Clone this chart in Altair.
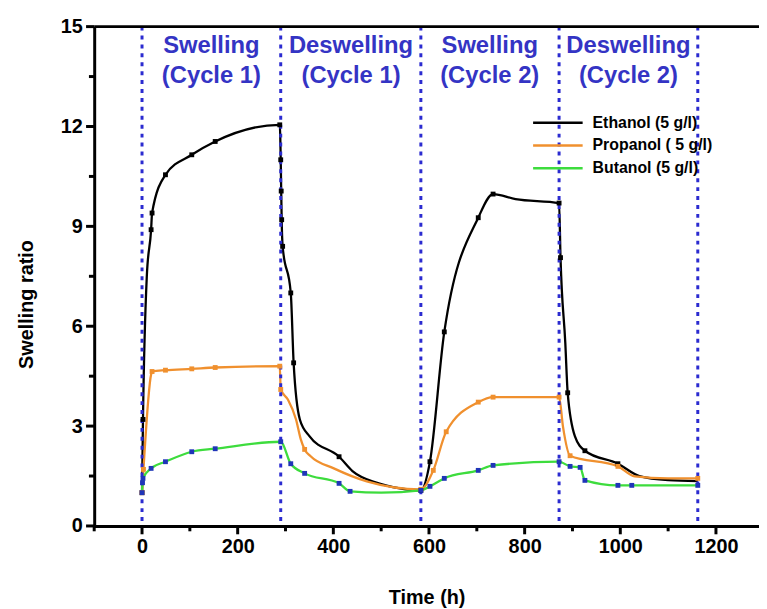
import altair as alt
import pandas as pd

# ---------------- data ----------------
series_names = ["Ethanol (5 g/l)", "Propanol ( 5 g/l)", "Butanol (5 g/l)"]
line_colors = ["#000000", "#f0902e", "#3ddc3d"]
marker_colors = ["#000000", "#f0902e", "#1f35b8"]

eth_t = [0, 2, 10, 19, 21, 49, 104, 153, 288, 290, 291, 292, 294, 311, 317, 330, 350, 412, 440, 490, 539, 583,
         602, 632, 703, 734, 781, 872, 875, 885, 890, 905, 926, 995, 1040, 1100, 1162]
eth_v = [1.0, 3.2, 7.5, 8.9, 9.4, 10.55, 11.15, 11.55, 12.05, 11.0, 10.06, 9.2, 8.4, 7.0, 4.9, 3.2, 2.7, 2.08, 1.65, 1.3, 1.13, 1.07,
         1.93, 5.83, 9.26, 9.97, 9.82, 9.7, 8.06, 5.5, 4.0, 2.7, 2.26, 1.87, 1.5, 1.38, 1.35]
eth_m = [1, 1, 0, 1, 1, 1, 1, 1, 1, 1, 1, 1, 1, 1, 1, 0, 0, 1, 0, 0, 0, 1,
         1, 1, 1, 1, 0, 1, 1, 0, 1, 0, 1, 1, 0, 0, 0]

pro_t = [0, 3, 19, 21, 49, 104, 153, 288, 290, 305, 322, 332, 340, 352, 401, 470, 583,
         609, 636, 703, 734, 872, 880, 895, 995, 1030, 1100, 1162]
pro_v = [1.0, 1.7, 4.55, 4.64, 4.68, 4.72, 4.76, 4.8, 4.1, 3.8, 3.2, 2.6, 2.3, 2.1, 1.73, 1.34, 1.1,
         1.67, 2.83, 3.72, 3.87, 3.87, 3.0, 2.11, 1.79, 1.49, 1.43, 1.43]
pro_m = [1, 1, 0, 1, 1, 1, 1, 1, 1, 0, 0, 0, 1, 0, 0, 0, 1,
         1, 1, 1, 1, 1, 0, 1, 1, 0, 0, 1]

but_t = [0, 1, 2, 19, 49, 104, 153, 290, 311, 340, 412, 435, 500, 583,
         602, 632, 703, 734, 872, 895, 916, 926, 995, 1024, 1162]
but_v = [1.0, 1.3, 1.43, 1.73, 1.93, 2.23, 2.32, 2.53, 1.87, 1.58, 1.28, 1.04, 1.0, 1.07,
         1.19, 1.43, 1.67, 1.82, 1.93, 1.79, 1.76, 1.37, 1.22, 1.22, 1.22]
but_m = [1, 1, 1, 1, 1, 1, 1, 1, 1, 1, 1, 1, 0, 1,
         1, 1, 1, 1, 1, 1, 1, 1, 1, 1, 1]

phase_t = [0, 290, 583, 872, 1162]
label_t = [145, 437, 727, 1017]
label_text = ["Swelling\n(Cycle 1)", "Deswelling\n(Cycle 1)", "Swelling\n(Cycle 2)", "Deswelling\n(Cycle 2)"]
label_v = [14.42, 14.42, 14.42, 14.42]

x_domain = [-100, 1290]
y_domain = [0, 15]
x_major = [0, 200, 400, 600, 800, 1000, 1200]
x_minor = [-100, 100, 300, 500, 700, 900, 1100]
y_major = [0, 3, 6, 9, 12, 15]
y_minor = [1.5, 4.5, 7.5, 10.5, 13.5]

# tick lengths in axis units (x ticks hang below v=0, y ticks left of t=-100)
x_tick_len = {"major": 0.25, "minor": 0.16}
y_tick_len = {"major": 17.0, "minor": 11.0}

# ---------------- tables ----------------
rows = []
for name, mc, ts, vs, ms in zip(series_names, marker_colors,
                                [eth_t, pro_t, but_t], [eth_v, pro_v, but_v], [eth_m, pro_m, but_m]):
    for t, v, m in zip(ts, vs, ms):
        rows.append({"series": name, "t": t, "v": v, "m": m, "mcolor": mc})
df = pd.DataFrame(rows)
df_phase = pd.DataFrame({"t": phase_t})
df_lab = pd.DataFrame({"t": label_t, "v": label_v, "text": label_text})
df_top = pd.DataFrame({"v": [y_domain[1]]})

xt_rows = [{"t": t, "v": y_domain[0], "v2": y_domain[0] - x_tick_len["major"]} for t in x_major] + \
          [{"t": t, "v": y_domain[0], "v2": y_domain[0] - x_tick_len["minor"]} for t in x_minor]
yt_rows = [{"v": v, "t": x_domain[0], "t2": x_domain[0] - y_tick_len["major"]} for v in y_major] + \
          [{"v": v, "t": x_domain[0], "t2": x_domain[0] - y_tick_len["minor"]} for v in y_minor]
df_xt = pd.DataFrame(xt_rows)
df_yt = pd.DataFrame(yt_rows)

FONT = "Liberation Sans"
x_scale = alt.Scale(domain=x_domain, nice=False, zero=False)
y_scale = alt.Scale(domain=y_domain, nice=False, zero=False)

x_axis = alt.Axis(values=x_major, format="d", ticks=False, orient="bottom",
                  title="Time (h)", titleY=72, titleBaseline="middle",
                  labelPadding=11, grid=False)
y_axis = alt.Axis(values=y_major, format="d", ticks=False, orient="left",
                  title="Swelling ratio", titleX=-68, titleY=280, titleBaseline="middle",
                  titleAlign="center", labelPadding=12, grid=False)

X = lambda: alt.X("t:Q", scale=x_scale, axis=None)
Y = lambda: alt.Y("v:Q", scale=y_scale, axis=None)

lines = alt.Chart(df).mark_line(strokeWidth=2.3, interpolate="monotone").encode(
    x=alt.X("t:Q", scale=x_scale, axis=x_axis),
    y=alt.Y("v:Q", scale=y_scale, axis=y_axis),
    color=alt.Color("series:N", scale=alt.Scale(domain=series_names, range=line_colors),
                    legend=alt.Legend(title=None, orient="none", legendX=460, legendY=89,
                                      symbolType="M-5,0L5,0", symbolSize=100, symbolStrokeWidth=2.5,
                                      labelFont=FONT, labelFontSize=16, labelFontWeight="bold",
                                      labelColor="black", rowPadding=7, labelOffset=27)),
    detail="series:N",
)

x_ticks = alt.Chart(df_xt).mark_rule(strokeWidth=3, color="black", clip=False).encode(
    x=X(), y=Y(), y2="v2:Q")
y_ticks = alt.Chart(df_yt).mark_rule(strokeWidth=3, color="black", clip=False).encode(
    x=X(), x2="t2:Q", y=Y())

points = alt.Chart(df).transform_filter("datum.m == 1").mark_square(size=24, opacity=1).encode(
    x=X(), y=Y(),
    color=alt.Color("mcolor:N", scale=None),
)

phases = alt.Chart(df_phase).mark_rule(strokeDash=[4, 5], strokeWidth=3, color="#2b2bd0").encode(
    x=X()
)

top_line = alt.Chart(df_top).mark_rule(strokeWidth=3, color="black").encode(y=Y())

labels = alt.Chart(df_lab).mark_text(
    lineBreak="\n", fontSize=24, fontWeight="bold", color="#3434c4", font=FONT, lineHeight=30,
    baseline="middle", align="center",
).encode(x=X(), y=Y(), text="text:N")

chart = alt.layer(lines, phases, points, labels, top_line, x_ticks, y_ticks).resolve_axis(
    x="independent", y="independent"
).properties(
    width=671, height=504,
    autosize=alt.AutoSizeParams(type="none"),
    padding={"left": 87, "top": 16, "right": 0, "bottom": 80},
).configure_view(stroke=None).configure_axis(
    domainColor="black", domainWidth=3,
    labelFont=FONT, labelFontSize=20, labelFontWeight="bold", labelColor="black",
    titleFont=FONT, titleFontSize=20, titleFontWeight="bold", titleColor="black",
)

chart.save("out.html", embed_options={"renderer": "svg", "actions": False})
